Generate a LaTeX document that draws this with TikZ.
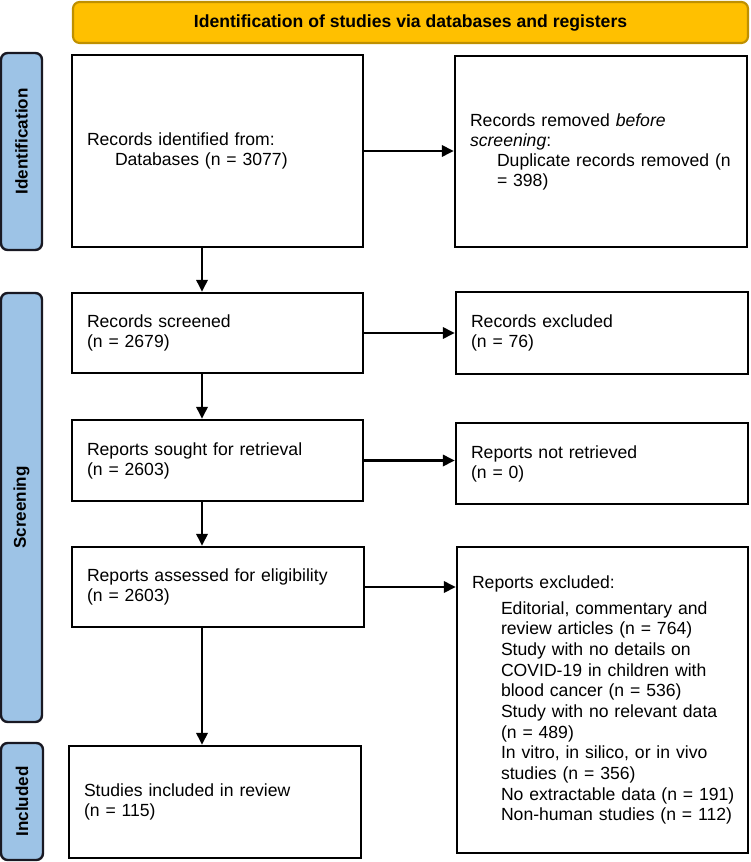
\documentclass[tikz,border=0pt]{standalone}
\usepackage{fontspec}
\setmainfont{Liberation Sans}
\usetikzlibrary{arrows.meta}
\definecolor{bannerfill}{RGB}{255,192,0}
\definecolor{bannerdraw}{RGB}{191,144,0}
\definecolor{sidefill}{RGB}{157,195,230}
\definecolor{sidedraw}{RGB}{25,25,35}
\begin{document}
\begin{tikzpicture}[x=0.75pt,y=-0.75pt,
 box/.style={draw=black, line width=1.8pt, fill=white, inner xsep=11.25pt, inner ysep=0pt, align=left, font=\fontsize{13.2}{15}\selectfont},
 banner/.style={draw=bannerdraw, fill=bannerfill, line width=1.6pt, rounded corners=5pt, font=\bfseries\fontsize{13.2}{15}\selectfont, minimum width=506.25pt, minimum height=30.75pt, inner sep=0pt},
 side/.style={draw=sidedraw, fill=sidefill, line width=1.8pt, rounded corners=5pt, rotate=90, font=\bfseries\fontsize{12.8}{14}\selectfont, inner sep=0pt},
 arr/.style={line width=1.7pt, -{Triangle[length=9pt,width=8.5pt]}}
]
\useasboundingbox (0,0) rectangle (750,862);
\fill[white] (0,0) rectangle (750,862);

\node[banner] (banner) at (410.5,22.5) {Identification of studies via databases and registers};

\node[side, minimum width=147.75pt, minimum height=30.75pt] (sid) at (21.5,151.5) {\hspace*{15pt}Identification};
\node[side, minimum width=321.75pt, minimum height=30.75pt] (sscr) at (21.5,507.5) {Screening};
\node[side, minimum width=87.75pt, minimum height=31.5pt] (sinc) at (22,801.5) {Included};

\node[box, text width=195.75pt, minimum height=144pt] (b1) at (217.5,151)
 {Records identified from:\\\hspace*{21pt}Databases (n = 3077)};
\node[box, text width=196.5pt, minimum height=143.25pt] (b2) at (601,151.5)
 {Records removed \textit{before}\\\textit{screening}:\\\hspace*{20.25pt}\mbox{Duplicate records removed (n}\\\hspace*{20.25pt}= 398)};
\node[box, text width=195.75pt, minimum height=60pt] (b3) at (217.5,333)
 {Records screened\\(n = 2679)};
\node[box, text width=196.5pt, minimum height=61.5pt] (b4) at (602,333)
 {Records excluded\\(n = 76)};
\node[box, text width=195.75pt, minimum height=60.75pt] (b5) at (217.5,460.5)
 {Reports sought for retrieval\\(n = 2603)};
\node[box, text width=196.5pt, minimum height=60.75pt] (b6) at (602,463.5)
 {Reports not retrieved\\(n = 0)};
\node[box, text width=196.5pt, minimum height=60pt] (b7) at (218,587)
 {Reports assessed for eligibility\\(n = 2603)};
\node[box, text width=195.75pt, minimum height=229.5pt, font=\fontsize{13.2}{15.5}\selectfont] (b8) at (602.5,700)
 {Reports excluded:\\[4pt]
 \hspace*{21.75pt}\mbox{Editorial, commentary and}\\
 \hspace*{21.75pt}\mbox{review articles (n = 764)}\\
 \hspace*{21.75pt}\mbox{Study with no details on}\\
 \hspace*{21.75pt}\mbox{COVID-19 in children with}\\
 \hspace*{21.75pt}\mbox{blood cancer (n = 536)}\\
 \hspace*{21.75pt}\mbox{Study with no relevant data}\\
 \hspace*{21.75pt}\mbox{(n = 489)}\\
 \hspace*{21.75pt}\mbox{In vitro, in silico, or in vivo}\\
 \hspace*{21.75pt}\mbox{studies (n = 356)}\\
 \hspace*{21.75pt}\mbox{No extractable data (n = 191)}\\
 \hspace*{21.75pt}\mbox{Non-human studies (n = 112)}};
\node[box, text width=196.5pt, minimum height=84pt] (b9) at (215,802)
 {Studies included in review\\(n = 115)};

\coordinate (sp) at (202,0);
\draw[arr] (b1.south -| sp) -- (b3.north -| sp);
\draw[arr] (b3.south -| sp) -- (b5.north -| sp);
\draw[arr] (b5.south -| sp) -- (b7.north -| sp);
\draw[arr] (b7.south -| sp) -- (b9.north -| sp);
\draw[arr] (b1.east) -- (b1.east -| b2.west);
\draw[arr] (b3.east) -- (b3.east -| b4.west);
\draw[arr] (b5.east) -- (b5.east -| b6.west);
\draw[arr] (b7.east) -- (b7.east -| b8.west);
\end{tikzpicture}
\end{document}
